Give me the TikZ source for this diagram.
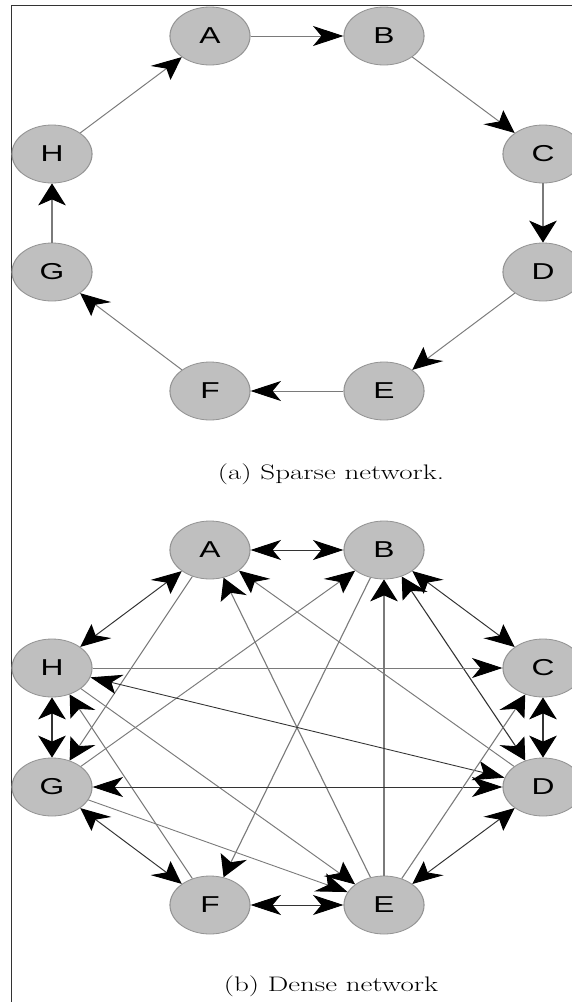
\documentclass[tikz,border=0pt]{standalone}
\usepackage{fontspec}
\newfontfamily\nodefont{Liberation Sans}
\usetikzlibrary{arrows.meta}
\def\sx{1.38}
\tikzset{
  vtx/.style={circle, fill=black!25, draw=black!42, line width=0.8pt,
    minimum size=58pt, inner sep=0pt, font=\nodefont\fontsize{23}{23}\selectfont},
  tipshape/.tip={Stealth[length=22pt,width=20pt,inset=6pt,color=black]},
  onew/.style={draw=black!52, line width=0.85pt, -tipshape},
  twow/.style={draw=black!80, line width=0.85pt, tipshape-tipshape},
  capt/.style={font=\fontsize{21}{21}\selectfont, inner sep=0pt}
}
\begin{document}
\begin{tikzpicture}[x=1pt,y=-1pt]
\useasboundingbox (0,0) rectangle (572,1002);
\clip (0,0) rectangle (572,1002);
\draw[black!80, line width=1pt] (11.5,1002) -- (11.5,5.5) -- (572,5.5);
\begin{scope}[transform canvas={xscale=\sx}]
% sparse network
\node[vtx] (sA) at ({210/\sx},36) {A};
\node[vtx] (sB) at ({384/\sx},36) {B};
\node[vtx] (sC) at ({543/\sx},154) {C};
\node[vtx] (sD) at ({543/\sx},272) {D};
\node[vtx] (sE) at ({384/\sx},391) {E};
\node[vtx] (sF) at ({210/\sx},391) {F};
\node[vtx] (sG) at ({52/\sx},272) {G};
\node[vtx] (sH) at ({52/\sx},154) {H};
\draw[onew] (sA) -- (sB);
\draw[onew] (sB) -- (sC);
\draw[onew] (sC) -- (sD);
\draw[onew] (sD) -- (sE);
\draw[onew] (sE) -- (sF);
\draw[onew] (sF) -- (sG);
\draw[onew] (sG) -- (sH);
\draw[onew] (sH) -- (sA);
\node[capt] (capa) at ({331/\sx},474) {(a) Sparse network.};
% dense network
\node[vtx] (dA) at ({210/\sx},550) {A};
\node[vtx] (dB) at ({384/\sx},550) {B};
\node[vtx] (dC) at ({543/\sx},668) {C};
\node[vtx] (dD) at ({543/\sx},787) {D};
\node[vtx] (dE) at ({384/\sx},905) {E};
\node[vtx] (dF) at ({210/\sx},905) {F};
\node[vtx] (dG) at ({52/\sx},787) {G};
\node[vtx] (dH) at ({52/\sx},668) {H};
\draw[twow] (dA) -- (dB);
\draw[twow] (dA) -- (dH);
\draw[onew] (dA) -- (dG);
\draw[onew] (dE) -- (dA);
\draw[onew] (dD) -- (dA);
\draw[onew] (dG) -- (dB);
\draw[onew] (dB) -- (dF);
\draw[onew] (dE) -- (dB);
\draw[twow] (dB) -- (dD);
\draw[twow] (dB) -- (dC);
\draw[onew] (dH) -- (dC);
\draw[twow] (dH) -- (dD);
\draw[onew] (dH) -- (dE);
\draw[onew] (dF) -- (dH);
\draw[twow] (dH) -- (dG);
\draw[twow] (dG) -- (dD);
\draw[onew] (dG) -- (dE);
\draw[twow] (dG) -- (dF);
\draw[twow] (dF) -- (dE);
\draw[onew] (dE) -- (dC);
\draw[twow] (dE) -- (dD);
\draw[twow] (dC) -- (dD);
\node[capt] (capb) at ({331/\sx},986) {(b) Dense network};
\end{scope}
\end{tikzpicture}
\end{document}
